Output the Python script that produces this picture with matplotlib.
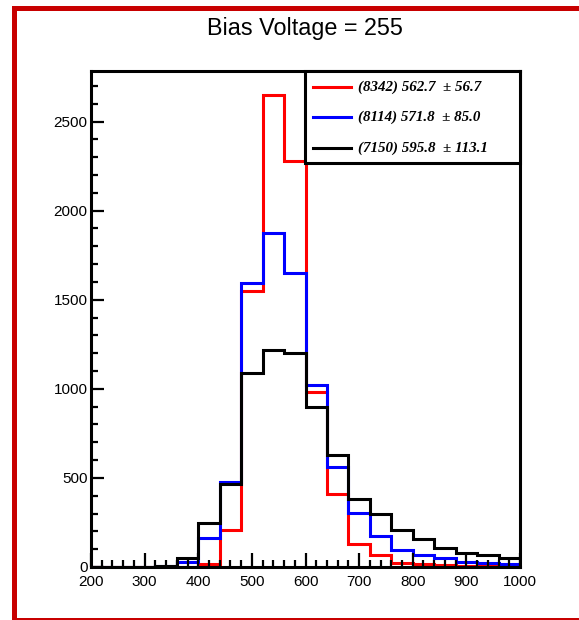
import matplotlib
matplotlib.use('Agg')
import matplotlib.pyplot as plt
from matplotlib.patches import Rectangle
from matplotlib.lines import Line2D
from matplotlib.ticker import MultipleLocator

# ---------------- data ----------------
bin_edges = list(range(200, 1001, 40))
red_counts = [0, 0, 0, 0, 0, 15, 210, 1550, 2651, 2279, 980, 409, 130, 70, 22, 18, 14, 8, 6, 5]
blue_counts = [0, 0, 0, 4, 26, 165, 478, 1595, 1875, 1651, 1020, 561, 301, 175, 93, 67, 48, 26, 20, 19]
black_counts = [0, 0, 0, 4, 50, 249, 466, 1090, 1217, 1202, 899, 626, 382, 295, 208, 155, 104, 77, 67, 48]
series_colors = ['#ff0000', '#0000ff', '#000000']
entries = [8342, 8114, 7150]
means = [562.7, 571.8, 595.8]
rms = [56.7, 85.0, 113.1]
title = 'Bias Voltage = 255'
x_range = (200, 1000)

# ---------------- figure ----------------
W, H = 579, 620
fig = plt.figure(figsize=(W / 100, H / 100), dpi=100)
plt.rcParams['font.family'] = ['Liberation Sans', 'DejaVu Sans']

ax_l, ax_r, ax_t, ax_b = 91, 520, 71, 567
ax = fig.add_axes([ax_l / W, 1 - ax_b / H, (ax_r - ax_l) / W, (ax_b - ax_t) / H])

for counts, col in zip([red_counts, blue_counts, black_counts], series_colors):
    ax.stairs(counts, bin_edges, color=col, lw=2.2, baseline=0)

ymax = 1.05 * max(max(red_counts), max(blue_counts), max(black_counts))
ax.set_xlim(*x_range)
ax.set_ylim(0, ymax)

ax.xaxis.set_major_locator(MultipleLocator(100))
ax.xaxis.set_minor_locator(MultipleLocator(20))
ax.yaxis.set_major_locator(MultipleLocator(500))
ax.yaxis.set_minor_locator(MultipleLocator(100))
ax.tick_params(axis='x', which='major', direction='in', length=10, width=1.6, labelsize=11, pad=6)
ax.tick_params(axis='x', which='minor', direction='in', length=5, width=1.6)
ax.tick_params(axis='y', which='major', direction='in', length=9.4, width=1.6, labelsize=11, pad=2.5)
ax.tick_params(axis='y', which='minor', direction='in', length=4.7, width=1.6)
for s in ax.spines.values():
    s.set_linewidth(2.2)
    s.set_zorder(5)

# ---------------- legend box ----------------
lx0 = (305 - ax_l) / (ax_r - ax_l)
ly0 = (ax_b - 163) / (ax_b - ax_t)
ax.add_patch(Rectangle((lx0, ly0), 1 - lx0, 1 - ly0, transform=ax.transAxes,
                       facecolor='white', edgecolor='black', lw=2.2, zorder=10, clip_on=False))
row_px = [87, 117, 148]
xl0 = (313 - ax_l) / (ax_r - ax_l)
xl1 = (351 - ax_l) / (ax_r - ax_l)
xt = (358 - ax_l) / (ax_r - ax_l)
for i, col in enumerate(series_colors):
    yy = (ax_b - row_px[i]) / (ax_b - ax_t)
    ax.add_line(Line2D([xl0, xl1], [yy, yy], transform=ax.transAxes, color=col, lw=2.2,
                       zorder=11, clip_on=False))
    ax.text(xt, yy, f'({entries[i]}) {means[i]:.1f}  \u00b1 {rms[i]:.1f}', transform=ax.transAxes,
            ha='left', va='center', fontsize=10.8, family='Liberation Serif',
            fontweight='bold', fontstyle='italic', zorder=12)

# ---------------- title ----------------
fig.text(305 / W, 1 - 28 / H, title, ha='center', va='center', fontsize=16.8)

# ---------------- canvas border ----------------
border_col = '#c80000'
bl = 13.5 / W
bt = 1 - 8 / H
bb = 1 - 619.5 / H
lwb = 3.6
fig.add_artist(Line2D([bl, bl], [bb, bt], color=border_col, lw=lwb, solid_capstyle='projecting'))
fig.add_artist(Line2D([bl, 1.05], [bt, bt], color=border_col, lw=lwb, solid_capstyle='projecting'))
fig.add_artist(Line2D([bl, 1.05], [bb, bb], color=border_col, lw=lwb, solid_capstyle='projecting'))

fig.savefig('out.png', dpi=100)
